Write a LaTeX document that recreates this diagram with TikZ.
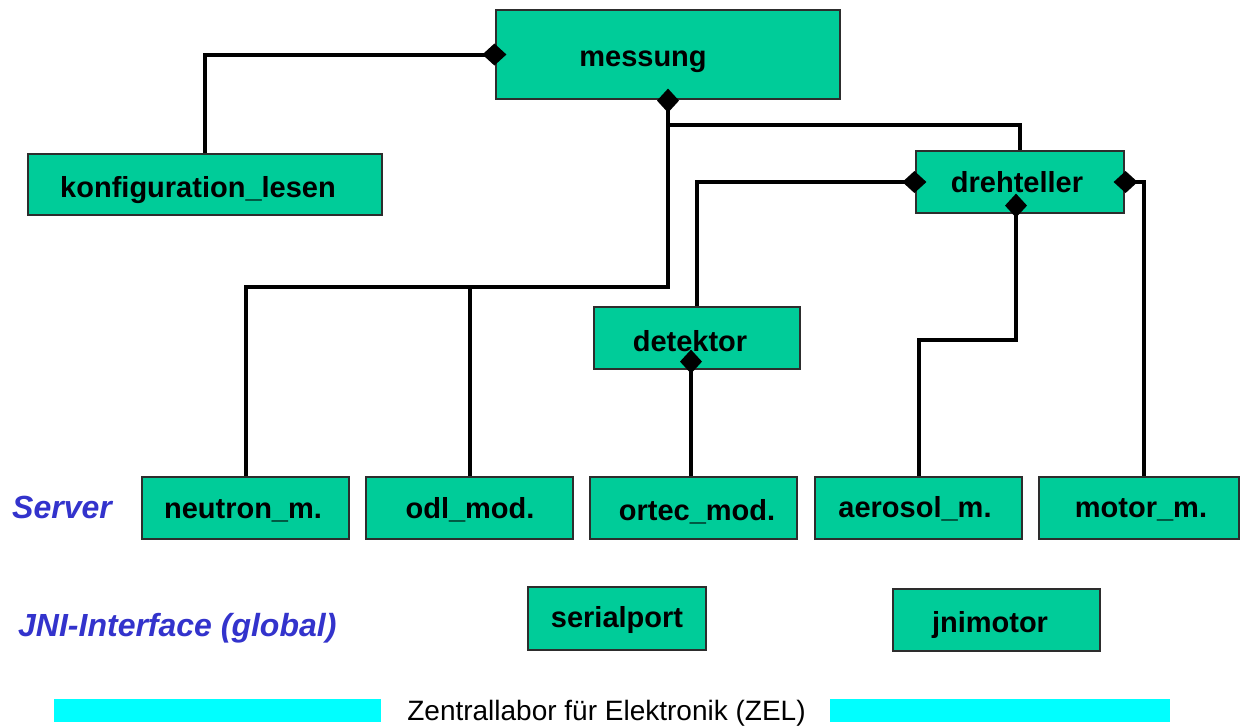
\documentclass[tikz,border=0pt]{standalone}
\usepackage{fontspec}
\setmainfont{Liberation Sans}
\usetikzlibrary{arrows.meta}
\definecolor{boxgreen}{RGB}{0,204,153}
\definecolor{labelblue}{RGB}{51,51,204}
\definecolor{zelcyan}{RGB}{0,255,255}
\definecolor{edgegray}{RGB}{45,45,45}
\tikzset{
  module/.style={draw=edgegray, line width=1.2pt, fill=boxgreen, inner sep=0pt},
  modtext/.style={anchor=base, inner sep=0pt, font=\fontsize{29}{34}\selectfont\bfseries},
  layertext/.style={anchor=base west, inner sep=0pt, text=labelblue,
    font=\fontsize{32}{38}\selectfont\bfseries\itshape},
  conn/.style={line width=4pt, draw=black},
  % aggregation diamond centred on the box edge
  aggmid/.style={{Diamond[length=24pt,width=22pt,line width=0pt]}-, shorten <=-11pt},
  % aggregation diamond sitting just inside the box edge
  agginner/.style={{Diamond[length=24pt,width=22pt,line width=0pt]}-, shorten <=-20pt},
}
\begin{document}
\begin{tikzpicture}[x=1pt,y=-1pt]
\useasboundingbox (0,0) rectangle (1241,726);

% modules
\node[module, minimum width=344, minimum height=89] (messung) at (668,54.5) {};
\node[module, minimum width=354, minimum height=61] (konf) at (205,184.5) {};
\node[module, minimum width=208, minimum height=62] (dreh) at (1020,182) {};
\node[module, minimum width=206, minimum height=62] (det) at (697,338) {};
\node[module, minimum width=207, minimum height=62] (neutron) at (245.5,508) {};
\node[module, minimum width=207, minimum height=62] (odl) at (469.5,508) {};
\node[module, minimum width=207, minimum height=62] (ortec) at (693.5,508) {};
\node[module, minimum width=207, minimum height=62] (aer) at (918.5,508) {};
\node[module, minimum width=200, minimum height=62] (motor) at (1139,508) {};
\node[module, minimum width=178, minimum height=63] (serial) at (617,618.5) {};
\node[module, minimum width=207, minimum height=62] (jni) at (996.5,620) {};

% module names
\node[modtext] (messung-t) at (643,66) {messung};
\node[modtext] (konf-t) at (198,197) {konfiguration\_lesen};
\node[modtext] (dreh-t) at (1017,192) {drehteller};
\node[modtext] (det-t) at (690,351) {detektor};
\node[modtext] (neutron-t) at (243,518) {neutron\_m.};
\node[modtext] (odl-t) at (470,518) {odl\_mod.};
\node[modtext] (ortec-t) at (697,520) {ortec\_mod.};
\node[modtext] (aer-t) at (915,517) {aerosol\_m.};
\node[modtext] (motor-t) at (1141,517) {motor\_m.};
\node[modtext] (serial-t) at (617,627) {serialport};
\node[modtext] (jni-t) at (990,632) {jnimotor};

% layer labels
\node[layertext] (server) at (12,518) {Server};
\node[layertext] (jnilayer) at (18,636) {JNI-Interface (global)};

% junction points
\coordinate (mj) at (668,125);
\coordinate (bj) at (668,287);
\coordinate (dj) at (918.5,340);

% connectors
\draw[conn, aggmid] (messung.west) -| (konf.north);
\draw[conn, aggmid] (messung.south) -- (bj) -| (neutron.north);
\draw[conn] (mj) -| (dreh.north);
\draw[conn] (odl.north) |- (bj);
\draw[conn, aggmid] (dreh.west) -| (det.north);
\draw[conn, aggmid] (dreh.east) -| ([xshift=5pt]motor.north);
\draw[conn, agginner] ([xshift=-4pt]dreh.south) |- (dj) -- (aer.north);
\draw[conn, agginner] ([xshift=-6pt]det.south) -- ([xshift=-6pt]det.south |- ortec.north);

% footer
\fill[zelcyan] (54,699) rectangle (381,722);
\fill[zelcyan] (830,699) rectangle (1170,722);
\node[anchor=base, inner sep=0pt, font=\fontsize{28}{33}\selectfont] (footer) at (606.5,720)
  {Zentrallabor für Elektronik (ZEL)};
\end{tikzpicture}
\end{document}
